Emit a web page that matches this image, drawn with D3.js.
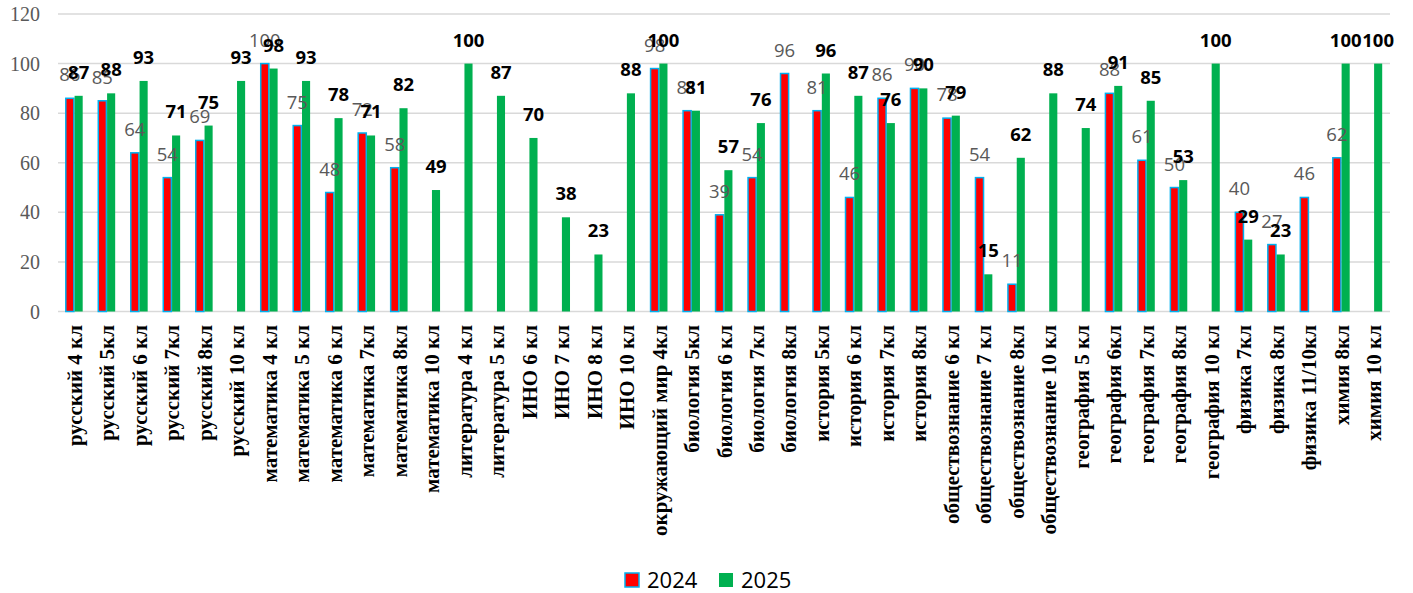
<!DOCTYPE html>
<html>
<head>
<meta charset="utf-8">
<script src="https://cdn.jsdelivr.net/npm/d3@7"></script>
<style>
    html, body { margin: 0; padding: 0; background: #fff; }
    #chart { width: 1413px; height: 593px; }
    .grid line { stroke: #d9d9d9; stroke-width: 1.5px; }
    .y-tick { font-family: "Liberation Serif", serif; font-size: 20px; fill: #595959; }
    .x-label { font-family: "Liberation Serif", serif; font-weight: bold; font-size: 21px; fill: #000; }
    .val-2024 { font-family: "Open Sans", sans-serif; font-size: 18.5px; fill: #595959; }
    .val-2025 { font-family: "Open Sans", sans-serif; font-size: 18.5px; font-weight: bold; fill: #000; }
    .legend text { font-family: "Open Sans", sans-serif; font-size: 22px; fill: #000; }
</style>
</head>
<body>
<div id="chart"></div>
<script>
const categories = [
    'русский 4 кл', 'русский 5кл', 'русский 6 кл', 'русский 7кл', 'русский 8кл', 'русский 10 кл',
    'математика 4 кл', 'математика 5 кл', 'математика 6 кл', 'математика 7кл', 'математика 8кл',
    'математика 10 кл', 'литература 4 кл', 'литература 5 кл', 'ИНО 6 кл', 'ИНО 7 кл', 'ИНО 8 кл',
    'ИНО 10 кл', 'окружающий мир 4кл', 'биология 5кл', 'биология 6 кл', 'биология 7кл',
    'биология 8кл', 'история 5кл', 'история 6 кл', 'история 7кл', 'история 8кл',
    'обществознание 6 кл', 'обществознание 7 кл', 'обществознание 8кл', 'обществознание 10 кл',
    'география 5 кл', 'география 6кл', 'география 7кл', 'география 8кл', 'география 10 кл',
    'физика 7кл', 'физика 8кл', 'физика 11/10кл', 'химия 8кл', 'химия 10 кл'
];

const values2024 = [
    86, 85, 64, 54, 69, null,
    100, 75, 48, 72, 58,
    null, null, null, null, null, null,
    null, 98, 81, 39, 54,
    96, 81, 46, 86, 90,
    78, 54, 11, null,
    null, 88, 61, 50, null,
    40, 27, 46, 62, null
];

const values2025 = [
    87, 88, 93, 71, 75, 93,
    98, 93, 78, 71, 82,
    49, 100, 87, 70, 38, 23,
    88, 100, 81, 57, 76,
    null, 96, 87, 76, 90,
    79, 15, 62, 88,
    74, 91, 85, 53, 100,
    29, 23, null, 100, 100
];

const yTicks = [0, 20, 40, 60, 80, 100, 120];
const seriesNames = ['2024', '2025'];

const colors = { '2024': '#ff0000', '2025': '#00b050' };
const outline2024 = '#00b0f0';

const svg = d3.select('#chart')
    .append('svg')
    .attr('width', 1413)
    .attr('height', 593);

const x = d3.scaleBand()
    .domain(categories)
    .range([58, 1390])
    .paddingInner(0.48)
    .paddingOuter(0.24);

const xs = d3.scaleBand()
    .domain(seriesNames)
    .range([0, x.bandwidth()])
    .paddingInner(0.08);

const y = d3.scaleLinear()
    .domain([0, 120])
    .range([311.5, 14]);

// gridlines
svg.append('g')
    .attr('class', 'grid')
    .selectAll('line')
    .data(yTicks)
    .enter()
    .append('line')
    .attr('x1', 58)
    .attr('x2', 1390)
    .attr('y1', d => y(d))
    .attr('y2', d => y(d));

svg.append('g')
    .selectAll('text')
    .data(yTicks)
    .enter()
    .append('text')
    .attr('class', 'y-tick')
    .attr('x', 40)
    .attr('y', d => y(d))
    .attr('dy', '0.35em')
    .attr('text-anchor', 'end')
    .text(d => d);

const rows = categories.map((c, i) => ({ cat: c, v2024: values2024[i], v2025: values2025[i] }));

const groups = svg.append('g')
    .selectAll('g')
    .data(rows)
    .enter()
    .append('g')
    .attr('transform', d => `translate(${x(d.cat)},0)`);

groups.filter(d => d.v2024 != null)
    .append('rect')
    .attr('x', xs('2024'))
    .attr('y', d => y(d.v2024))
    .attr('width', xs.bandwidth())
    .attr('height', d => y(0) - y(d.v2024))
    .attr('fill', colors['2024'])
    .attr('stroke', outline2024)
    .attr('stroke-width', 1.5);

groups.filter(d => d.v2025 != null)
    .append('rect')
    .attr('x', xs('2025'))
    .attr('y', d => y(d.v2025))
    .attr('width', xs.bandwidth())
    .attr('height', d => y(0) - y(d.v2025))
    .attr('fill', colors['2025']);

// value labels (2024 first so the bold 2025 ones sit on top, as in the original)
groups.filter(d => d.v2024 != null)
    .append('text')
    .attr('class', 'val-2024')
    .attr('x', xs('2024') + xs.bandwidth() / 2)
    .attr('y', d => y(d.v2024) - 17)
    .attr('text-anchor', 'middle')
    .text(d => d.v2024);

groups.filter(d => d.v2025 != null)
    .append('text')
    .attr('class', 'val-2025')
    .attr('x', xs('2025') + xs.bandwidth() / 2)
    .attr('y', d => y(d.v2025) - 17)
    .attr('text-anchor', 'middle')
    .text(d => d.v2025);

// category labels, rotated
svg.append('g')
    .selectAll('text')
    .data(categories)
    .enter()
    .append('text')
    .attr('class', 'x-label')
    .attr('transform', d => `translate(${x(d) + x.bandwidth() / 2 + 7.5},325) rotate(-90)`)
    .attr('text-anchor', 'end')
    .text(d => d);

// legend
const legend = svg.append('g').attr('class', 'legend');
const legendX = { '2024': 625, '2025': 719 };

seriesNames.forEach(s => {
    legend.append('rect')
        .attr('x', legendX[s])
        .attr('y', 573)
        .attr('width', 14)
        .attr('height', 14)
        .attr('fill', colors[s])
        .attr('stroke', s === '2024' ? outline2024 : 'none')
        .attr('stroke-width', 1.5);
    legend.append('text')
        .attr('x', legendX[s] + 22)
        .attr('y', 580)
        .attr('dy', '0.36em')
        .text(s);
});
</script>
</body>
</html>
